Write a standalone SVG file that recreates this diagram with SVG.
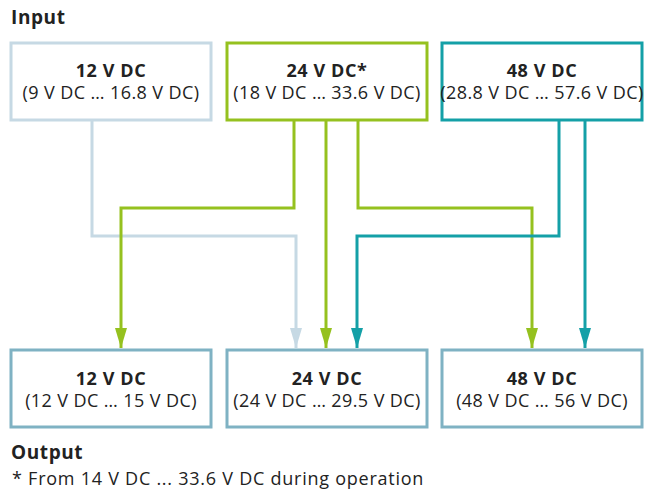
<svg xmlns="http://www.w3.org/2000/svg" width="648" height="492" viewBox="0 0 648 492">
<style>
text{font-family:"Open Sans","Noto Sans","Liberation Sans",sans-serif;fill:#222;text-anchor:middle;letter-spacing:0.6px}
.t{font-weight:bold;font-size:18px}
.s{font-size:18px;letter-spacing:0.4px}
.h{font-weight:bold;font-size:19px;text-anchor:start}
.f{font-size:18px;text-anchor:start;letter-spacing:0.75px}
.box{fill:#fff;stroke-width:3}
.ln{fill:none;stroke-width:3}
.lb{stroke:#c6d9e4}.gr{stroke:#95c11f}.te{stroke:#14a0a7}
.ob{stroke:#7fb2c3}
</style>
<defs>
<marker id="aLb" markerWidth="12" markerHeight="20" refX="6" refY="20" markerUnits="userSpaceOnUse" viewBox="0 0 12 20"><path d="M0,0 L12,0 L6,20Z" fill="#c6d9e4"/></marker>
<marker id="aGr" markerWidth="12" markerHeight="20" refX="6" refY="20" markerUnits="userSpaceOnUse" viewBox="0 0 12 20"><path d="M0,0 L12,0 L6,20Z" fill="#95c11f"/></marker>
<marker id="aTe" markerWidth="12" markerHeight="20" refX="6" refY="20" markerUnits="userSpaceOnUse" viewBox="0 0 12 20"><path d="M0,0 L12,0 L6,20Z" fill="#14a0a7"/></marker>
</defs>
<rect width="648" height="492" fill="#fff"/>
<text class="h" x="11" y="24">Input</text>
<g id="connectors">
<path class="ln lb" d="M92,120 V236 H296 V348" marker-end="url(#aLb)"/>
<path class="ln gr" d="M294,120 V208 H121 V348" marker-end="url(#aGr)"/>
<path class="ln gr" d="M326,120 V348" marker-end="url(#aGr)"/>
<path class="ln gr" d="M358,120 V208 H532 V348" marker-end="url(#aGr)"/>
<path class="ln te" d="M559,120 V236 H357 V348" marker-end="url(#aTe)"/>
<path class="ln te" d="M585,120 V348" marker-end="url(#aTe)"/>
</g>
<g id="in12"><rect class="box lb" x="11" y="43" width="200" height="77"/><text class="t" x="111" y="77">12 V DC</text><text class="s" x="111" y="99">(9 V DC … 16.8 V DC)</text></g>
<g id="in24"><rect class="box gr" x="227" y="43" width="200" height="77"/><text class="t" x="327" y="77">24 V DC*</text><text class="s" x="327" y="99">(18 V DC … 33.6 V DC)</text></g>
<g id="in48"><rect class="box te" x="442" y="43" width="200" height="77"/><text class="t" x="542" y="77">48 V DC</text><text class="s" x="542" y="99">(28.8 V DC … 57.6 V DC)</text></g>
<g id="out12"><rect class="box ob" x="11" y="350" width="200" height="77"/><text class="t" x="111" y="385">12 V DC</text><text class="s" x="111" y="407">(12 V DC … 15 V DC)</text></g>
<g id="out24"><rect class="box ob" x="227" y="350" width="200" height="77"/><text class="t" x="327" y="385">24 V DC</text><text class="s" x="327" y="407">(24 V DC … 29.5 V DC)</text></g>
<g id="out48"><rect class="box ob" x="442" y="350" width="200" height="77"/><text class="t" x="542" y="385">48 V DC</text><text class="s" x="542" y="407">(48 V DC … 56 V DC)</text></g>
<text class="h" x="11" y="459">Output</text>
<text class="f" x="12" y="485">* From 14 V DC ... 33.6 V DC during operation</text>
</svg>
